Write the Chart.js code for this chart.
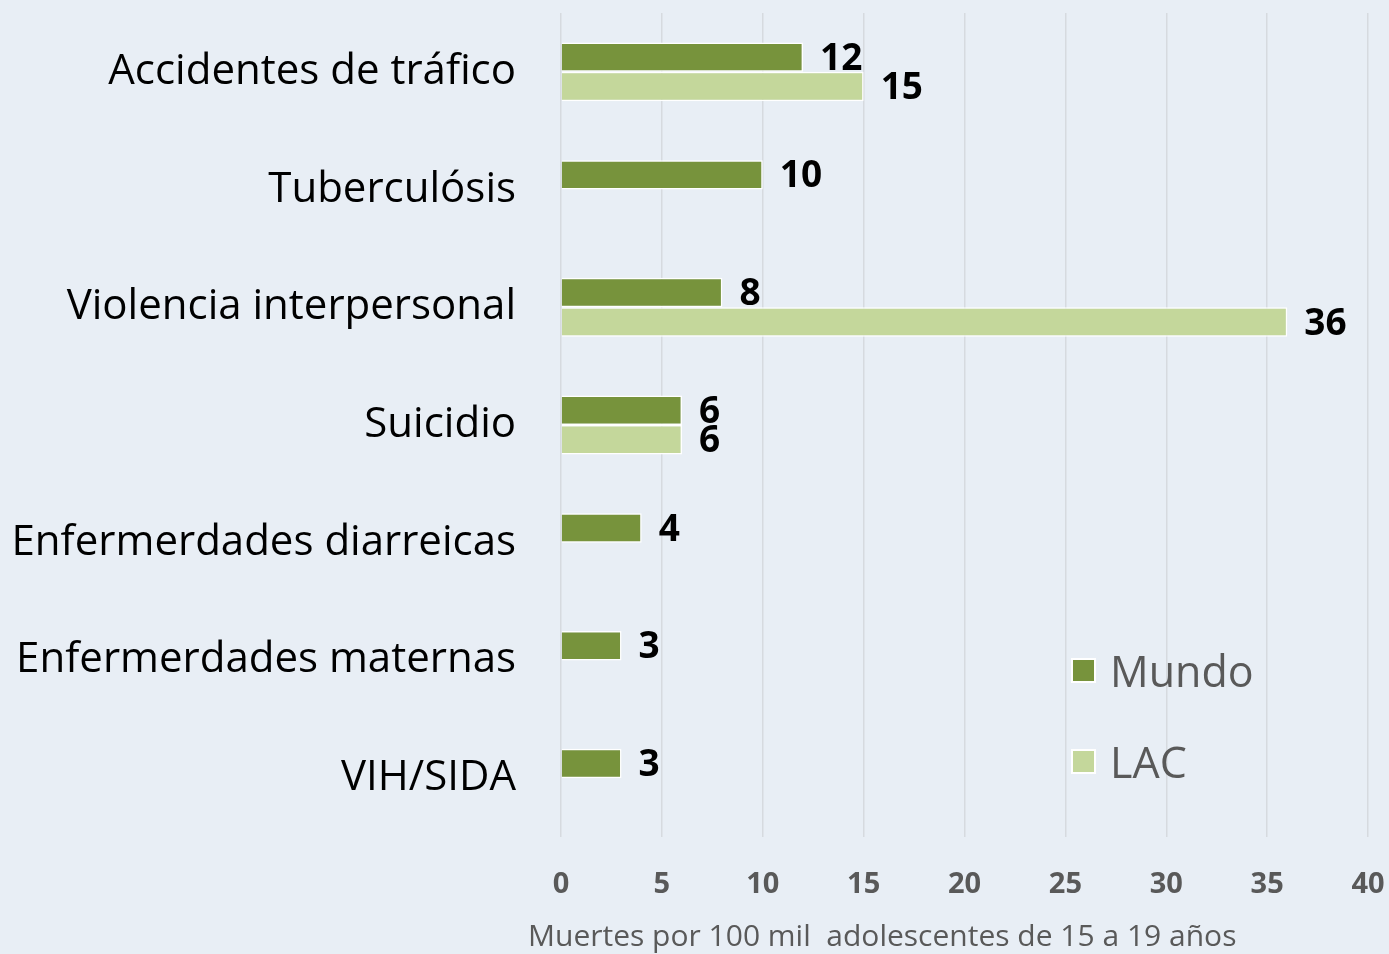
<!DOCTYPE html>
<html>
<head>
<meta charset="utf-8">
<script src="https://cdn.jsdelivr.net/npm/chart.js@4.4.1/dist/chart.umd.min.js"></script>
<style>
  html, body { margin: 0; padding: 0; background: #E8EEF5; }
  #wrap { position: relative; width: 1389px; height: 954px; }
  #legend { position: absolute; left: 1071px; top: 625px; font-family: "Open Sans", sans-serif; }
  .lg-item { display: flex; align-items: center; height: 91px; margin: 0; }
  .lg-box { width: 25px; height: 25px; box-sizing: border-box; border: 2px solid #fff; margin-right: 14px; }
  .lg-text { font-size: 43px; color: #595959; }
</style>
</head>
<body>
<div id="wrap">
  <canvas id="c" width="1389" height="954"></canvas>
  <div id="legend"></div>
</div>
<script>
const categories = ["Accidentes de tráfico", "Tuberculósis", "Violencia interpersonal", "Suicidio", "Enfermerdades diarreicas", "Enfermerdades maternas", "VIH/SIDA"];
const mundo = [12, 10, 8, 6, 4, 3, 3];
const lac = [15, null, 36, 6, null, null, null];
const seriesNames = ["Mundo", "LAC"];
const seriesColors = ["#77933C", "#C4D79B"];
const xTicks = [0, 5, 10, 15, 20, 25, 30, 35, 40];
const axisTitle = "Muertes por 100 mil  adolescentes de 15 a 19 años";

const FONT = "'Open Sans', sans-serif";

const valueLabels = {
  id: 'valueLabels',
  afterDatasetsDraw(chart) {
    const ctx = chart.ctx;
    ctx.save();
    ctx.font = "bold 37px " + FONT;
    ctx.fillStyle = "#000";
    ctx.textAlign = "left";
    ctx.textBaseline = "middle";
    chart.data.datasets.forEach((ds, di) => {
      const meta = chart.getDatasetMeta(di);
      meta.data.forEach((el, i) => {
        const v = ds.data[i];
        if (v === null || v === undefined) return;
        ctx.fillText(String(v), el.x + 17, el.y + 2);
      });
    });
    ctx.restore();
  }
};

const xTitle = {
  id: 'xTitle',
  afterDraw(chart) {
    const ctx = chart.ctx;
    const xs = chart.scales.x;
    ctx.save();
    ctx.font = "30px " + FONT;
    ctx.fillStyle = "#595959";
    ctx.textAlign = "left";
    ctx.textBaseline = "middle";
    ctx.fillText(axisTitle, xs.left - 33, xs.bottom - 17);
    ctx.restore();
  }
};

const chart = new Chart(document.getElementById('c'), {
  type: 'bar',
  data: {
    labels: categories,
    datasets: [
      { label: seriesNames[0], data: mundo, backgroundColor: seriesColors[0], borderColor: "#ffffff", borderWidth: 1.5, categoryPercentage: 0.5, barPercentage: 1.0 },
      { label: seriesNames[1], data: lac, backgroundColor: seriesColors[1], borderColor: "#ffffff", borderWidth: 1.5, categoryPercentage: 0.5, barPercentage: 1.0 }
    ]
  },
  options: {
    indexAxis: 'y',
    responsive: false,
    animation: false,
    layout: { padding: { top: 13, right: 21, left: 0, bottom: 0 } },
    plugins: { legend: { display: false }, tooltip: { enabled: false } },
    scales: {
      x: {
        min: 0, max: 40,
        afterBuildTicks(scale) { scale.ticks = xTicks.map(v => ({ value: v })); },
        grid: { color: "#D6DADF", lineWidth: 1.5, drawTicks: false },
        border: { display: false },
        ticks: { font: { family: FONT, size: 29, weight: 'bold' }, color: "#595959", padding: 30 },
        title: { display: false },
        afterFit(scale) { scale.height = 117; scale.paddingLeft = 0; scale.paddingRight = 0; }
      },
      y: {
        grid: { display: false },
        border: { display: false },
        ticks: { font: { family: FONT, size: 42 }, color: "#000", padding: 37 },
        afterFit(scale) { scale.width = 561; scale.paddingTop = 0; scale.paddingBottom = 0; }
      }
    }
  },
  plugins: [valueLabels, xTitle]
});

const lg = document.getElementById('legend');
chart.data.datasets.forEach(ds => {
  const item = document.createElement('div');
  item.className = 'lg-item';
  const box = document.createElement('div');
  box.className = 'lg-box';
  box.style.background = ds.backgroundColor;
  const t = document.createElement('span');
  t.className = 'lg-text';
  t.textContent = ds.label;
  item.appendChild(box); item.appendChild(t);
  lg.appendChild(item);
});
</script>
</body>
</html>
